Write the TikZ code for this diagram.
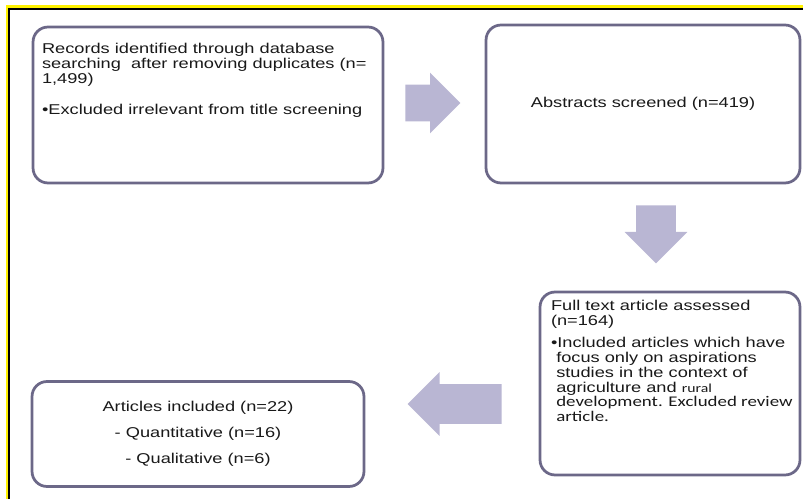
\documentclass[tikz,border=0pt]{standalone}
\usepackage{fontspec}
\setmainfont{Liberation Sans}[FakeStretch=1.28]
\newfontfamily\narrowfont{Carlito}[FakeStretch=1.28]
\usepackage{tikz}
\usetikzlibrary{shapes.arrows}
\definecolor{boxline}{RGB}{108,104,136}
\definecolor{arrowfill}{RGB}{185,182,211}
\definecolor{txt}{RGB}{25,25,25}

\begin{document}
\begin{tikzpicture}[
    x=0.02cm, y=-0.02cm,
    box/.style={draw=boxline, fill=white, rounded corners=0.3cm, line width=0.055cm, align=center, text=txt, font=\fontsize{8.1pt}{8.5pt}\selectfont},
    boxtext/.style={anchor=north west, inner sep=0pt, align=left, text=txt, font=\fontsize{8.1pt}{8.5pt}\selectfont},
    blockarrow/.style={single arrow, fill=arrowfill, draw=none, inner xsep=0pt, minimum width=0pt, anchor=tail},
]
    \useasboundingbox (0,0) rectangle (803,499);

    % Moldura
    \draw[yellow, line width=0.06cm] (7,499) -- (7,6.5) -- (803,6.5);
    \draw[black, line width=0.04cm] (9,499) -- (9,9) -- (803,9);

    % Registros identificados
    \node[box, minimum width=7cm, minimum height=3.12cm] (records) at (208,105) {};
    \node[boxtext] (recordstext) at ([shift={(10,17)}]records.north west)
        {Records identified through database\\searching\ \ after removing duplicates (n=\\1,499)\\[9.6pt]\textbullet Excluded irrelevant from title screening};

    % Resumos
    \node[box, minimum width=6.28cm, minimum height=3.16cm] (abstracts) at (643,104) {Abstracts screened (n=419)};

    % Texto completo
    \node[box, minimum width=5.2cm, minimum height=3.66cm] (fulltext) at (670,383.5) {};
    \node[boxtext] (fulltexttext) at ([shift={(12,9)}]fulltext.north west)
        {Full text article assessed\\(n=164)\\[4pt]\textbullet Included articles which have\\
         \hspace*{3pt}focus only on aspirations\\
         \hspace*{3pt}studies in the context of\\
         \hspace*{3pt}agriculture and {\narrowfont\fontsize{7pt}{8.5pt}\selectfont rural}\\
         \hspace*{3pt}{\narrowfont\fontsize{8.4pt}{8.5pt}\selectfont development. Excluded review}\\
         \hspace*{3pt}{\narrowfont\fontsize{8.4pt}{8.5pt}\selectfont article.}};

    % Artigos incluidos
    \node[box, minimum width=6.64cm, minimum height=2.1cm, font=\fontsize{8.1pt}{14.7pt}\selectfont] (included) at (198,434)
        {Articles included (n=22)\\- Quantitative (n=16)\\- Qualitative (n=6)};

    % Setas de bloco
    \node[blockarrow, minimum height=1.1cm, inner ysep=0.36cm, single arrow head extend=0.24cm] (arrowone) at (405,103) {};
    \node[blockarrow, minimum height=1.16cm, inner ysep=0.39cm, single arrow head extend=0.23cm, rotate=-90] (arrowtwo) at (656,205) {};
    \node[blockarrow, minimum height=1.88cm, inner ysep=0.39cm, single arrow head extend=0.24cm, rotate=180] (arrowthree) at (502,404) {};
\end{tikzpicture}
\end{document}
